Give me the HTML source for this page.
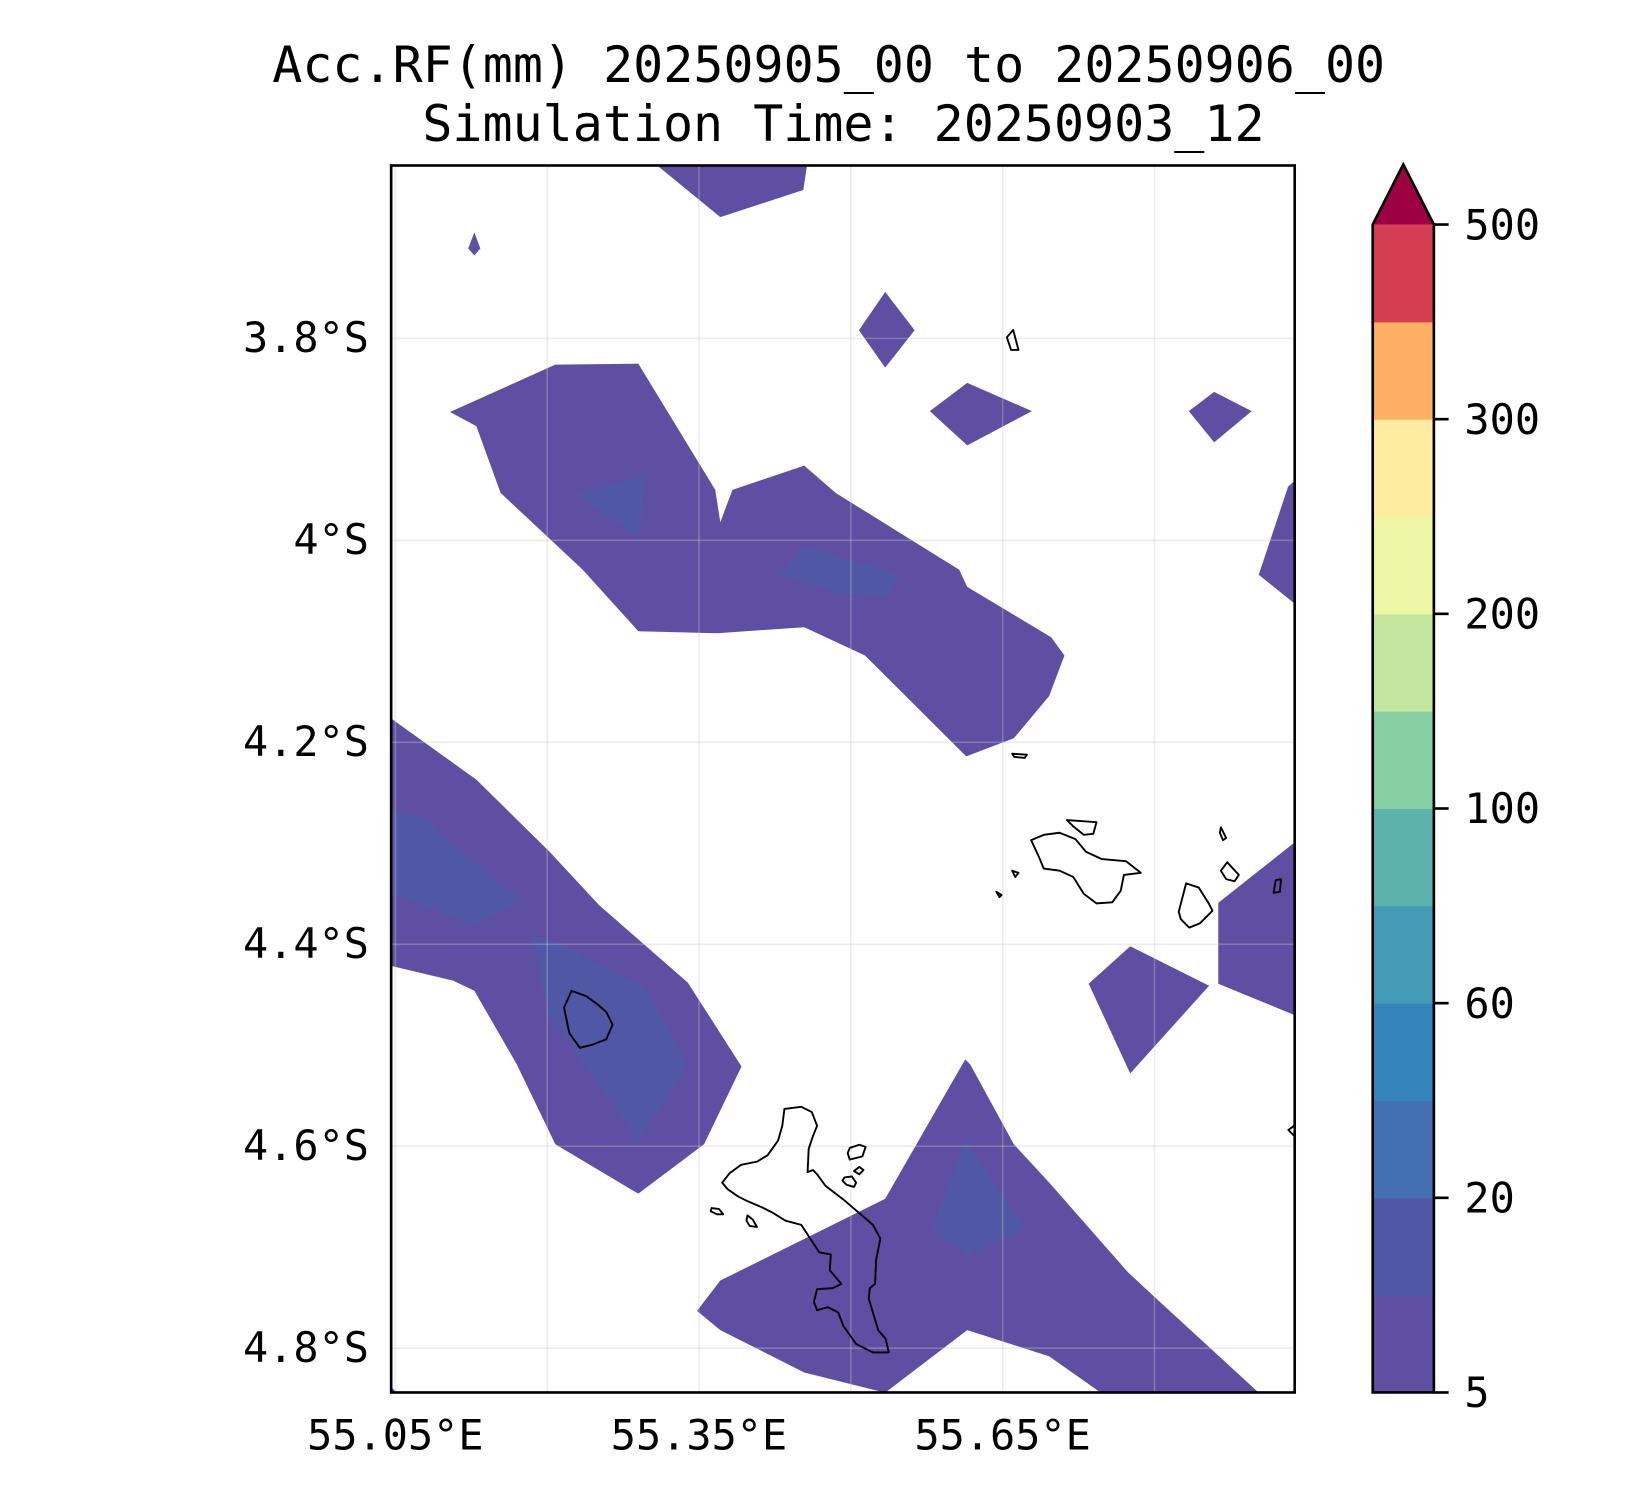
<!DOCTYPE html>
<html><head><meta charset="utf-8"><style>
html,body{margin:0;padding:0;background:#fff}
svg{display:block}
text{font-family:"DejaVu Sans Mono","Liberation Mono",monospace;fill:#000}
</style></head><body>
<svg id="chart" width="1650" height="1500" viewBox="0 0 1565 1423" preserveAspectRatio="none" xmlns="http://www.w3.org/2000/svg">
<text x="786" y="78" font-size="47.4" text-anchor="middle">Acc.RF(mm) 20250905_00 to 20250906_00</text>
<text x="800" y="134" font-size="47.4" text-anchor="middle">Simulation Time: 20250903_12</text>
<defs><clipPath id="plotclip"><rect x="371" y="157" width="857" height="1164"/></clipPath></defs>
<g id="fills" clip-path="url(#plotclip)"></g>
<g id="grid" clip-path="url(#plotclip)"></g>
<g id="coast" clip-path="url(#plotclip)" fill="none" stroke="#000" stroke-width="1.8" stroke-linejoin="round"></g>
<rect x="371" y="157" width="857" height="1164" fill="none" stroke="#000" stroke-width="2.5"/>
<g id="ticks"></g>
<g id="cbar"></g>
</svg>
<script>
const ns='http://www.w3.org/2000/svg';
// axis domains
const lonTicks=[55.05,55.35,55.65];
const lonGrid=[55.05,55.20,55.35,55.50,55.65,55.80];
const latTicks=[3.8,4.0,4.2,4.4,4.6,4.8];
const cbLevels=[5,10,20,40,60,80,100,150,200,250,300,400,500];
const cbLabels=[5,20,60,100,200,300,500];
const cbColors=['#5e4fa2','#5058a6','#4470b1','#3585bc','#439bb5','#5cb3ab','#86cfa5','#c3e79f','#ecf6a4','#feeca0','#fdb064','#d53e50'];
const cbExtend='#9e0142';
// contour polygons: [lon...], [lat...], level index
const polyLevel=[0,0,0,0,0,0,1,1,0,0,1,1,0,1,0,0,0];
const polyLon=[
[55.298,55.371,55.453,55.458,55.458,55.298],
[55.128,55.134,55.128,55.122],
[55.534,55.563,55.534,55.508],
[55.578,55.615,55.679,55.615],
[55.834,55.859,55.896,55.859],
[55.104,55.208,55.290,55.366,55.371,55.383,55.454,55.485,55.607,55.615,55.698,55.711,55.696,55.661,55.614,55.514,55.454,55.368,55.290,55.235,55.154,55.130],
[55.227,55.297,55.290],
[55.430,55.454,55.548,55.538,55.493],
[55.950,55.932,55.903,55.950],
[55.040,55.055,55.130,55.202,55.251,55.339,55.392,55.355,55.290,55.208,55.170,55.128,55.107,55.040],
[55.040,55.076,55.176,55.128,55.040],
[55.185,55.201,55.297,55.339,55.290,55.201],
[55.348,55.371,55.534,55.613,55.618,55.661,55.696,55.774,55.815,55.903,55.747,55.696,55.615,55.534,55.454,55.371],
[55.581,55.613,55.672,55.615],
[55.735,55.776,55.854,55.776],
[55.863,55.950,55.950,55.863],
[55.040,55.057,55.040]
];
const polyLat=[
[3.620,3.680,3.653,3.620,3.620,3.620],
[3.695,3.711,3.718,3.711],
[3.754,3.792,3.829,3.792],
[3.872,3.844,3.872,3.906],
[3.872,3.853,3.872,3.903],
[3.873,3.826,3.825,3.950,3.982,3.950,3.926,3.953,4.029,4.046,4.096,4.114,4.154,4.196,4.214,4.114,4.086,4.092,4.090,4.029,3.953,3.887],
[3.953,3.937,3.997],
[4.034,4.006,4.034,4.055,4.053],
[3.930,3.947,4.034,4.072],
[4.172,4.183,4.237,4.308,4.361,4.438,4.521,4.598,4.647,4.598,4.519,4.446,4.436,4.420],
[4.267,4.274,4.357,4.381,4.347],
[4.391,4.394,4.443,4.519,4.594,4.469],
[4.763,4.733,4.652,4.514,4.519,4.598,4.636,4.725,4.763,4.844,4.844,4.808,4.782,4.844,4.824,4.782],
[4.681,4.594,4.681,4.709],
[4.439,4.402,4.441,4.528],
[4.359,4.290,4.475,4.439],
[4.832,4.850,4.850]
];
function X(lon){return 375+(lon-55.05)*960;}
function Y(lat){return 321+(lat-3.8)*958;}
const fills=document.getElementById('fills');
for(let i=0;i<polyLon.length;i++){
  const p=document.createElementNS(ns,'polygon');
  p.setAttribute('points',polyLon[i].map((lo,j)=>X(lo).toFixed(1)+','+Y(polyLat[i][j]).toFixed(1)).join(' '));
  p.setAttribute('fill',cbColors[polyLevel[i]]);
  
  
  fills.appendChild(p);
}
const grid=document.getElementById('grid');
lonGrid.forEach(v=>{const l=document.createElementNS(ns,'line');
  l.setAttribute('x1',X(v));l.setAttribute('x2',X(v));l.setAttribute('y1',157);l.setAttribute('y2',1321);
  l.setAttribute('stroke','rgba(200,200,200,0.35)');l.setAttribute('stroke-width','1.5');
  
  
  grid.appendChild(l);});
latTicks.forEach(v=>{const l=document.createElementNS(ns,'line');
  l.setAttribute('y1',Y(v));l.setAttribute('y2',Y(v));l.setAttribute('x1',371);l.setAttribute('x2',1228);
  l.setAttribute('stroke','rgba(200,200,200,0.35)');l.setAttribute('stroke-width','1.5');
  
  
  grid.appendChild(l);});
// coastline basemap
const coastPaths=[
'744,1052 760,1050 770,1055 775,1068 771,1078 767,1090 766,1112 771,1110 775,1114 783,1125 800,1138 828,1162 835,1175 831,1195 830,1218 825,1222 824,1232 833,1262 840,1270 843,1283 828,1283 812,1275 800,1258 795,1245 785,1240 775,1243 772,1235 775,1223 790,1222 798,1218 787,1205 788,1190 777,1188 760,1162 745,1158 732,1150 722,1145 710,1140 700,1135 690,1128 685,1122 692,1113 703,1105 718,1102 728,1096 738,1082 742,1068',
'806,1089 815,1086 821,1088 818,1097 806,1100 804,1094',
'801,1117 808,1116 812,1122 810,1126 803,1124 799,1120',
'810,1111 815,1107 819,1110 815,1114',
'675,1146 682,1147 686,1152 680,1152 674,1149',
'709,1153 714,1157 718,1164 711,1163 708,1158',
'542,940 556,945 567,953 575,960 581,972 575,986 562,991 550,994 540,980 535,956',
'978,797 990,792 1005,790 1020,796 1030,808 1045,815 1068,817 1082,828 1066,830 1063,845 1055,856 1040,857 1028,848 1018,832 1005,826 990,824 985,812',
'1012,778 1040,780 1037,791 1028,792 1018,784',
'1118,865 1125,838 1137,842 1147,858 1150,864 1138,876 1128,880 1120,872',
'1158,826 1164,818 1175,830 1171,836 1163,834',
'1158,785 1163,795 1160,797 1157,790',
'1210,835 1215,834 1214,846 1208,847',
'960,826 966,828 963,832',
'945,846 950,849 948,851',
'955,320 961,313 966,332 959,332',
'960,715 974,716 972,719 962,718',
'1222,1072 1230,1066 1230,1080'];
const coast=document.getElementById('coast');
coastPaths.forEach(pts=>{const p=document.createElementNS(ns,'polygon');p.setAttribute('points',pts);
  
  
  coast.appendChild(p);});
const ticks=document.getElementById('ticks');
lonTicks.forEach(v=>{const t=document.createElementNS(ns,'text');
  t.setAttribute('x',X(v));t.setAttribute('y',1375);t.setAttribute('font-size','39.7');t.setAttribute('text-anchor','middle');
  t.textContent=v.toFixed(2)+'°E';
  
  
  ticks.appendChild(t);});
latTicks.forEach(v=>{const t=document.createElementNS(ns,'text');
  t.setAttribute('x',350);t.setAttribute('y',Y(v)+13);t.setAttribute('font-size','39.7');t.setAttribute('text-anchor','end');
  t.textContent=(Math.round(v*10)%10===0?v.toFixed(0):v.toFixed(1))+'°S';
  
  
  ticks.appendChild(t);});
// colorbar
const cb=document.getElementById('cbar');
const cbX=1302,cbW=58,cbTop=213,cbBot=1321,seg=(cbBot-cbTop)/cbColors.length;
function CY(i){return cbBot-i*seg;}
cbColors.forEach((c,i)=>{const r=document.createElementNS(ns,'rect');
  r.setAttribute('x',cbX);r.setAttribute('y',CY(i+1));r.setAttribute('width',cbW);r.setAttribute('height',seg+0.5);r.setAttribute('fill',c);
  
  
  cb.appendChild(r);});
const tri=document.createElementNS(ns,'polygon');
tri.setAttribute('points',cbX+','+cbTop+' '+(cbX+cbW/2)+',156 '+(cbX+cbW)+','+cbTop);
tri.setAttribute('fill',cbExtend);


cb.appendChild(tri);
const out=document.createElementNS(ns,'polygon');
out.setAttribute('points',cbX+','+cbBot+' '+cbX+','+cbTop+' '+(cbX+cbW/2)+',156 '+(cbX+cbW)+','+cbTop+' '+(cbX+cbW)+','+cbBot);
out.setAttribute('fill','none');out.setAttribute('stroke','#000');out.setAttribute('stroke-width','2.5');


cb.appendChild(out);
cbLabels.forEach(v=>{const i=cbLevels.indexOf(v);const y=CY(i);
  const l=document.createElementNS(ns,'line');l.setAttribute('x1',cbX+cbW);l.setAttribute('x2',cbX+cbW+14);l.setAttribute('y1',y);l.setAttribute('y2',y);l.setAttribute('stroke','#000');l.setAttribute('stroke-width','2.5');
  
  
  cb.appendChild(l);
  const t=document.createElementNS(ns,'text');t.setAttribute('x',1389);t.setAttribute('y',y+14);t.setAttribute('font-size','39.7');t.textContent=v;
  
  
  cb.appendChild(t);});
</script>
</body></html>
